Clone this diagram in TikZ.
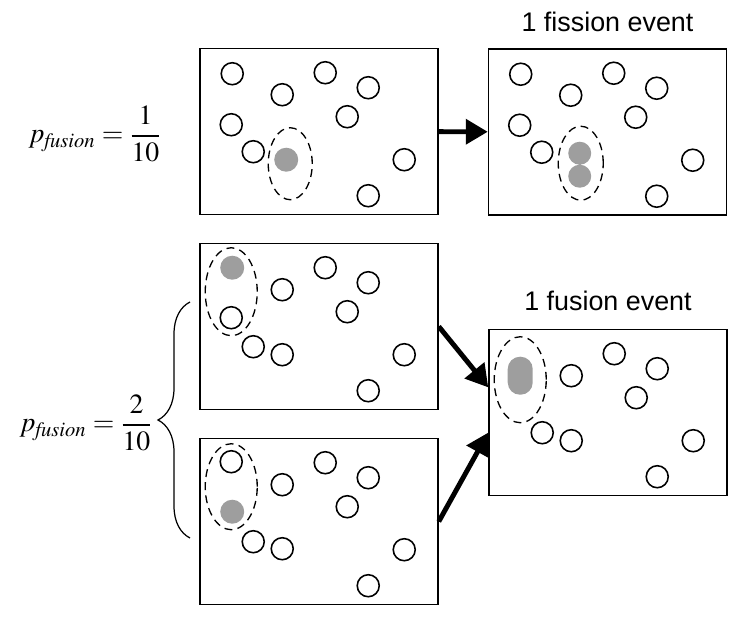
\documentclass[tikz,border=0pt]{standalone}
\usepackage{mathptmx}
\usepackage[no-math]{fontspec}
\newfontfamily\labelfont{Liberation Sans}
\usepackage{tikz}
\usetikzlibrary{arrows.meta,calc,decorations.pathreplacing,positioning}

\newcommand\commonparticles{%
  \foreach \px/\py in {83/47,126/25,169/40,148/69,54/104,205/112,169/148}
    \draw[particle] (\px,\py) circle[radius=0.22cm];}

\begin{document}
\begin{tikzpicture}[x=0.02cm, y=-0.02cm,
  box/.style={rectangle, draw=black, line width=0.9pt, minimum width=4.76cm, minimum height=3.32cm, inner sep=0pt},
  particle/.style={draw=black, line width=0.9pt},
  merged/.style={fill=black!38},
  group/.style={draw=black, line width=0.75pt, dash pattern=on 4.5pt off 3pt},
  event/.style={font=\labelfont\fontsize{15.3}{18}\selectfont, inner sep=0pt},
  formula/.style={font=\fontsize{15.8}{19}\selectfont, inner sep=0pt},
  bigarrow/.style={line width=2.8pt, -{Triangle[length=12.5pt, width=14pt]}}]
\useasboundingbox (0,0) rectangle (750,624);

\node (before) [box] at (319,131.5) {};
\node (after) [box] at (607.5,132) {};
\node (pairtop) [box] at (319,326.5) {};
\node (pairbottom) [box] at (319,521.5) {};
\node (fused) [box] at (608,412.5) {};

\node (fissionlabel) [event, above=0.32cm of after] {1 fission event};
\node (fusionlabel) [event, above=0.36cm of fused] {1 fusion event};

\node (onetenth) [formula] at (95,134) {$\displaystyle p_{\mathit{fusion}} = \frac{1}{10}$};
\node (twotenths) [formula] at (86,423) {$\displaystyle p_{\mathit{fusion}} = \frac{2}{10}$};

\begin{scope}[shift={(before.north west)}]
  \commonparticles
  \draw[particle] (33,26) circle[radius=0.22cm] (32,77) circle[radius=0.22cm];
  \fill[merged] (87,112) circle[radius=0.24cm];
  \draw[group] (91,116) ellipse[x radius=0.44cm, y radius=0.72cm];
\end{scope}

\begin{scope}[shift={(after.north west)}]
  \commonparticles
  \draw[particle] (33,26) circle[radius=0.22cm] (32,77) circle[radius=0.22cm];
  \fill[merged] (92,105) circle[radius=0.23cm] (92,128) circle[radius=0.23cm];
  \draw[group] (93,115) ellipse[x radius=0.45cm, y radius=0.74cm];
\end{scope}

\begin{scope}[shift={(pairtop.north west)}]
  \commonparticles
  \draw[particle] (32,75) circle[radius=0.22cm] (83,112) circle[radius=0.22cm];
  \fill[merged] (33,25) circle[radius=0.24cm];
  \draw[group] (32,49) ellipse[x radius=0.52cm, y radius=0.88cm];
\end{scope}

\begin{scope}[shift={(pairbottom.north west)}]
  \commonparticles
  \draw[particle] (32,24) circle[radius=0.22cm] (83,111) circle[radius=0.22cm];
  \fill[merged] (33,74) circle[radius=0.24cm];
  \draw[group] (32,49) ellipse[x radius=0.52cm, y radius=0.86cm];
\end{scope}

\begin{scope}[shift={(fused.north west)}]
  \commonparticles
  \draw[particle] (83,112) circle[radius=0.22cm];
  \fill[merged, rounded corners=0.245cm] (19.5,28) rectangle (44.5,66);
  \draw[group] (32,51) ellipse[x radius=0.52cm, y radius=0.86cm];
\end{scope}

\draw[bigarrow] (before) -- (after);
\draw[bigarrow] (pairtop.east) -- ($(fused.north west)!0.35!(fused.south west)$);
\draw[bigarrow] (pairbottom.east) -- ($(fused.north west)!0.62!(fused.south west)$);

\draw[line width=0.7pt, decorate, decoration={brace, amplitude=0.64cm}] (190,538) -- (190,302);

\end{tikzpicture}
\end{document}
